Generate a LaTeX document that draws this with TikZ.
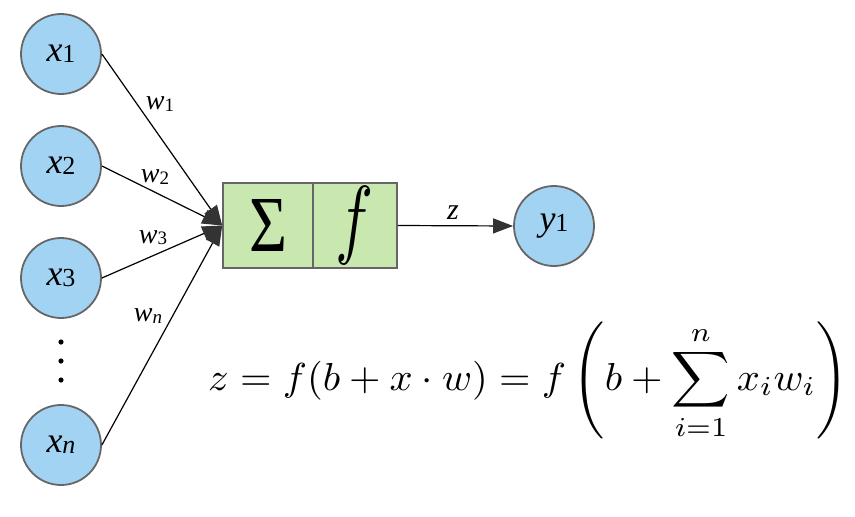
\documentclass[tikz,border=0pt]{standalone}
\usepackage{fontspec}
\usetikzlibrary{arrows.meta}
\newfontfamily\tms{Liberation Serif}
\definecolor{nodeblue}{HTML}{A3D3F2}
\definecolor{boxgreen}{HTML}{C9E8B0}
\definecolor{edgegray}{HTML}{666666}
\definecolor{tipgray}{HTML}{333333}
\newcommand{\vlab}[2]{{\fontsize{36}{36}\selectfont\tms\itshape #1}\raisebox{-0.28ex}{\fontsize{26}{26}\selectfont\tms #2}}
\newcommand{\wlab}[2]{{\fontsize{28}{28}\selectfont\tms\itshape #1}\raisebox{-0.28ex}{\fontsize{19}{19}\selectfont\tms #2}}
\begin{document}
\begin{tikzpicture}[x=1pt,y=-1pt,
  neuron/.style={circle,draw=edgegray,line width=1.8pt,fill=nodeblue,minimum size=80pt,inner sep=0pt},
  cell/.style={rectangle,draw=edgegray,line width=1.6pt,fill=boxgreen,minimum height=85pt,inner sep=0pt},
  conn/.style={line width=1.2pt,-{Triangle[length=20pt,width=15pt,color=tipgray]}},
  wl/.style={inner sep=0pt}]
\useasboundingbox (0,0) rectangle (855,517);
\node[neuron] (x1) at (61,54) {\vlab{x}{1}};
\node[neuron] (x2) at (61,166) {\vlab{x}{2}};
\node[neuron] (x3) at (61,278) {\vlab{x}{3}};
\node[neuron] (xn) at (61,445) {\vlab{x}{\itshape n}};
\node[neuron] (y1) at (554,226) {\vlab{y}{1}};
\node[cell,minimum width=90pt] (sig) at (268,225.5) {\resizebox{38pt}{52pt}{\tms Σ}};
\node[cell,minimum width=84pt] (f) at (355,225.5) {\raisebox{-6pt}{\resizebox{38pt}{61pt}{$f$}}};
\fill (61,342) circle (2.6pt) (61,361) circle (2.6pt) (61,380) circle (2.6pt);
\draw[conn] (x1.east) -- (sig.west);
\draw[conn] (x2.east) -- (sig.west);
\draw[conn] (x3.east) -- (sig.west);
\draw[conn] (xn.east) -- (sig.west);
\draw[conn] (f.east) -- (y1.west);
\node[wl] (w1) at (160,104) {\wlab{w}{1}};
\node[wl] (w2) at (155,177) {\wlab{w}{2}};
\node[wl] (w3) at (153,238) {\wlab{w}{3}};
\node[wl] (wn) at (148,316) {\wlab{w}{\itshape n}};
\node[wl] (zl) at (453,213) {\fontsize{30}{30}\selectfont\tms\itshape z};
\node[inner sep=0pt,anchor=base west] (eq) at (208,390) {\scalebox{4.05}[3.9]{$\displaystyle z = f(b + x\cdot w) = f\left(b + \sum_{i=1}^{n} x_i w_i\right)$}};
\end{tikzpicture}
\end{document}
